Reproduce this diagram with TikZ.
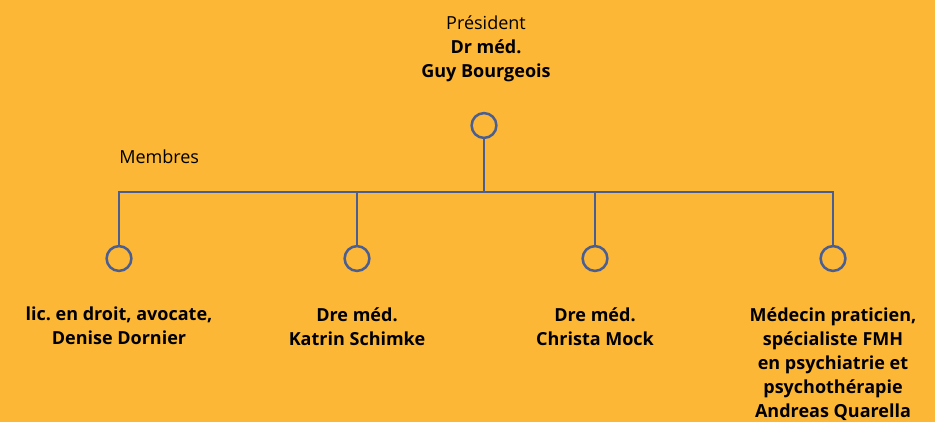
\documentclass[tikz,border=0pt]{standalone}
\usepackage{fontspec}
\setmainfont{Open Sans}
\usepackage{tikz}
\frenchspacing

\definecolor{bgorange}{RGB}{251,183,53}
\definecolor{lineblue}{RGB}{74,94,146}

\tikzset{
  member/.style={circle,draw=lineblue,line width=1.9pt,minimum size=18.6pt,inner sep=0pt},
  link/.style={draw=lineblue,line width=1.9pt},
  personlabel/.style={anchor=north,inner sep=0pt,align=center,font=\fontsize{13.5}{18}\selectfont\bfseries}
}

\begin{document}
\begin{tikzpicture}[x=0.75pt,y=0.75pt,yscale=-1,xscale=1]
%background, sets the size of the picture
\fill[bgorange] (0,0) rectangle (935,422);

%Shape: Circle [president]
\node[member] (pres) at (484,125.5) {};
%Shapes: Circles [members]
\node[member] (m1) at (119,258.5) {};
\node[member] (m2) at (357,258.5) {};
\node[member] (m3) at (595,258.5) {};
\node[member] (m4) at (833,258.5) {};

%Straight Lines
\coordinate (bar) at (484,192);
\draw[link] (pres.south) -- (pres|-bar) ;
\draw[link] (m1.north) -- (m1|-bar) -- (m4|-bar) -- (m4.north) ;
\draw[link] (m2.north) -- (m2|-bar) ;
\draw[link] (m3.north) -- (m3|-bar) ;

% Text Node
\node[personlabel] (prestext) at (486,15) {\mdseries Président\\Dr méd.\\Guy Bourgeois};
% Text Node
\node[anchor=north west,inner sep=0pt,font=\fontsize{13.5}{18}\selectfont] (membres) at (119,150) {Membres};
% Text Node
\node[personlabel] (t1) at (119,307) {lic. en droit, avocate,\\Denise Dornier};
% Text Node
\node[personlabel] (t2) at (357,307) {Dre méd.\\Katrin Schimke};
% Text Node
\node[personlabel] (t3) at (595,307) {Dre méd.\\Christa Mock};
% Text Node
\node[personlabel] (t4) at (833,307) {Médecin praticien,\\spécialiste FMH\\en psychiatrie et\\psychothérapie\\Andreas Quarella};

\end{tikzpicture}
\end{document}
